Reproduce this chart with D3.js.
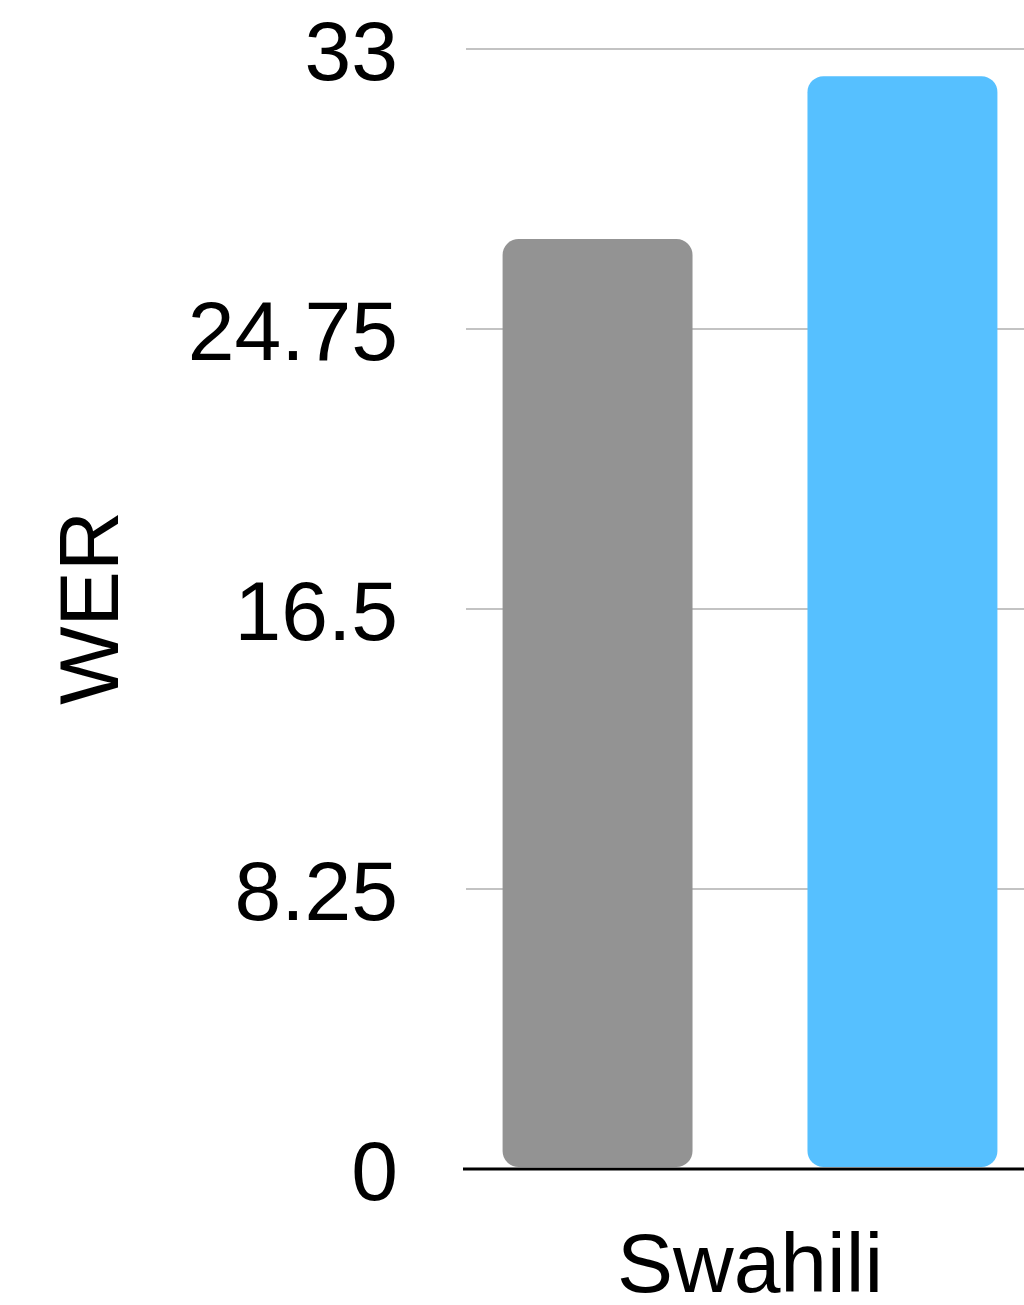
<!DOCTYPE html>
<html>
<head>
<meta charset="utf-8">
<script src="https://cdn.jsdelivr.net/npm/d3@7"></script>
<style>
  html, body { margin: 0; padding: 0; background: #fff; }
  svg { display: block; }
  text { font-family: "Liberation Sans", Arial, Helvetica, sans-serif; }
</style>
</head>
<body>
<svg id="chart" width="1024" height="1305"></svg>
<script>
// Word error rate per language, one bar per system
const categories = ["Swahili"];
const seriesKeys = ["baseline", "finetuned"];
const baselineValues = [27.4];
const finetunedValues = [32.2];
const seriesColors = ["#939393", "#56c0ff"];
const yTicks = [0, 8.25, 16.5, 24.75, 33];
const yTickLabels = ["0", "8.25", "16.5", "24.75", "33"];
const yLabel = "WER";

const rows = categories.map((c, i) => ({
  category: c,
  baseline: baselineValues[i],
  finetuned: finetunedValues[i]
}));

const svg = d3.select("#chart");
const plotLeft = 466, plotTop = 49, plotBottom = 1169;

const y = d3.scaleLinear().domain([0, 33]).range([plotBottom, plotTop]);
const x0 = d3.scaleBand().domain(categories).range([plotLeft, 1034]).padding(0);
const x1 = d3.scaleBand().domain(seriesKeys).range([0, x0.bandwidth()])
  .paddingInner(0.377).paddingOuter(0.12);
const color = d3.scaleOrdinal().domain(seriesKeys).range(seriesColors);

// horizontal gridlines
svg.append("g")
  .selectAll("line")
  .data(yTicks.filter(t => t > 0))
  .join("line")
  .attr("x1", plotLeft)
  .attr("x2", 1024)
  .attr("y1", d => y(d))
  .attr("y2", d => y(d))
  .attr("stroke", "#c3c3c3")
  .attr("stroke-width", 2);

// y axis tick labels
const yAxis = d3.axisLeft(y)
  .tickValues(yTicks)
  .tickFormat((d, i) => yTickLabels[i])
  .tickSize(0)
  .tickPadding(68);
const gy = svg.append("g")
  .attr("transform", `translate(${plotLeft},0)`)
  .call(yAxis);
gy.select(".domain").remove();
gy.selectAll("text")
  .attr("font-size", 84)
  .attr("fill", "#000")
  .attr("dy", "0.36em")
  .style("font-family", "'Liberation Sans', Arial, Helvetica, sans-serif");

// bars
const groups = svg.append("g")
  .selectAll("g")
  .data(rows)
  .join("g")
  .attr("transform", d => `translate(${x0(d.category)},0)`);

groups.selectAll("rect")
  .data(d => seriesKeys.map(k => ({ key: k, value: d[k] })))
  .join("rect")
  .attr("x", d => x1(d.key))
  .attr("width", x1.bandwidth())
  .attr("y", d => y(d.value))
  .attr("height", d => y(0) - 2 - y(d.value))
  .attr("rx", 16)
  .attr("ry", 16)
  .attr("fill", d => color(d.key));

// baseline axis
svg.append("line")
  .attr("x1", 463)
  .attr("x2", 1024)
  .attr("y1", plotBottom)
  .attr("y2", plotBottom)
  .attr("stroke", "#000")
  .attr("stroke-width", 3);

// category labels
const xAxis = d3.axisBottom(x0).tickSize(0).tickPadding(0);
const gx = svg.append("g")
  .attr("transform", `translate(0,${plotBottom})`)
  .call(xAxis);
gx.select(".domain").remove();
gx.selectAll("text")
  .attr("font-size", 84)
  .attr("fill", "#000")
  .attr("dy", null)
  .attr("y", 123)
  .style("font-family", "'Liberation Sans', Arial, Helvetica, sans-serif");

// y axis title
svg.append("text")
  .attr("transform", `translate(118,608) rotate(-90)`)
  .attr("text-anchor", "middle")
  .attr("font-size", 83)
  .attr("fill", "#000")
  .text(yLabel);
</script>
</body>
</html>
